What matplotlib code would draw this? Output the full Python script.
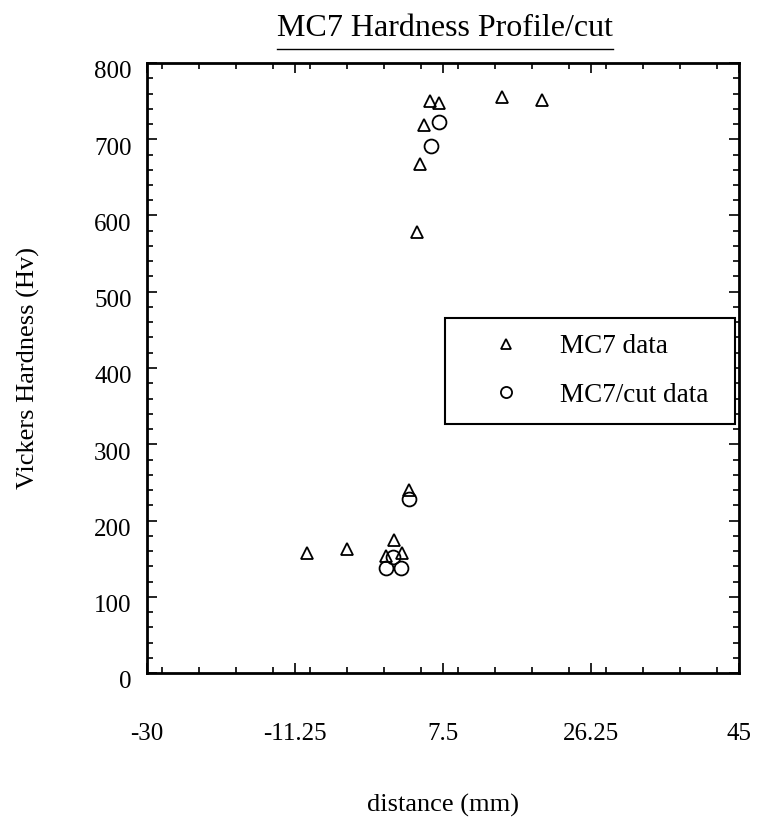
import matplotlib
matplotlib.use('Agg')
from matplotlib import pyplot as plt
from matplotlib.lines import Line2D
from matplotlib.transforms import ScaledTranslation
from matplotlib.ticker import FixedLocator, MultipleLocator, FormatStrFormatter

# hardness readings
mc7_dist = [-9.7, -4.7, 0.3, 1.3, 2.3, 3.2, 4.2, 4.6, 5.1, 5.9, 7.0, 15.0, 20.0]
mc7_hv = [157, 163, 154, 175, 157, 240, 579, 668, 719, 750, 748, 756, 751]

cut_dist = [0.3, 1.2, 2.2, 3.2, 6.0, 7.0]
cut_hv = [138, 152, 138, 228, 691, 723]

x_ticks = [-30, -11.25, 7.5, 26.25, 45]

plt.rcParams['font.family'] = ['Liberation Serif', 'DejaVu Serif']

fig = plt.figure(figsize=(7.57, 8.22), dpi=100)
axes = fig.add_axes([147 / 757, 1 - 673 / 822, 592 / 757, 610 / 822])

axes.plot(mc7_dist, mc7_hv, linestyle='none', marker='^', markersize=9,
          markerfacecolor='none', markeredgecolor='black',
          markeredgewidth=1.3, label='MC7 data')
axes.plot(cut_dist, cut_hv, linestyle='none', marker='o', markersize=10,
          markerfacecolor='none', markeredgecolor='black',
          markeredgewidth=1.3, label='MC7/cut data')

axes.set_xlim(-30, 45)
axes.set_ylim(0, 800)
axes.xaxis.set_major_locator(FixedLocator(x_ticks))
axes.xaxis.set_minor_locator(MultipleLocator(18.75 / 4))
axes.xaxis.set_major_formatter(FormatStrFormatter('%g'))
axes.yaxis.set_major_locator(MultipleLocator(100))
axes.yaxis.set_minor_locator(MultipleLocator(20))

axes.tick_params(which='both', direction='in', top=True, right=True,
                 colors='black', width=1.2)
axes.tick_params(which='major', length=7.5)
axes.tick_params(which='minor', length=4)
axes.tick_params(axis='x', which='major', pad=36, labelsize=18)
axes.tick_params(axis='y', which='major', pad=11, labelsize=18)

for spine in axes.spines.values():
    spine.set_linewidth(2)
    spine.set_color('black')

axes.set_xlabel('distance (mm)', fontsize=19, labelpad=35)
axes.set_ylabel('Vickers Hardness (Hv)', fontsize=19, labelpad=39)

# legend box sits against the right spine
leg = axes.legend(loc='upper left',
                  bbox_to_anchor=(0.503, (673 - 318) / 610, 0.49, 0.0),
                  mode='expand', fontsize=19.5, frameon=True, fancybox=False,
                  edgecolor='black', framealpha=1, borderpad=0.6,
                  labelspacing=0.87, handlelength=3.3, handletextpad=0.37,
                  markerscale=0.8, borderaxespad=0)
leg.get_frame().set_linewidth(1.5)

# title with underline
title = fig.text(445 / 757, 1 - 28 / 822, 'MC7 Hardness Profile/cut',
                 ha='center', va='center', fontsize=23)
fig.canvas.draw()
bbox = title.get_window_extent().transformed(fig.transFigure.inverted())
fig.add_artist(Line2D([bbox.x0, bbox.x1], [1 - 49 / 822, 1 - 49 / 822],
                      transform=fig.transFigure, color='black', linewidth=1))

# the y labels of the original sit a little below their ticks
shift = ScaledTranslation(0, -5 / 72, fig.dpi_scale_trans)
for label in axes.get_yticklabels():
    label.set_transform(label.get_transform() + shift)

plt.savefig('out.png', dpi=100)
